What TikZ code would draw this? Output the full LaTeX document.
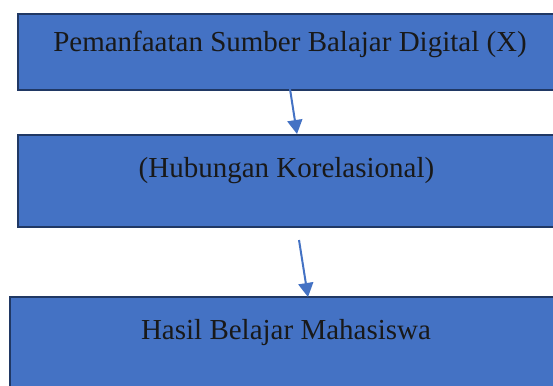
\documentclass[tikz,border=0pt]{standalone}
\usepackage{fontspec}
\setmainfont{Liberation Serif}
\usetikzlibrary{arrows.meta}
\definecolor{boxfill}{HTML}{4472C4}
\definecolor{boxline}{HTML}{203864}
\definecolor{arrowc}{HTML}{4472C4}
\begin{document}
\begin{tikzpicture}[x=1pt,y=-1pt,
  box/.style={draw=boxline,fill=boxfill,line width=2.5pt,rectangle,inner sep=0pt},
  lbl/.style={inner sep=0pt,anchor=base,font=\fontsize{29}{34}\selectfont,text=black!90},
  conn/.style={draw=arrowc,line width=2pt,-{Triangle[width=15pt,length=14pt]}}]
\useasboundingbox (0,0) rectangle (553,385);
\clip (0,0) rectangle (553,385);
\fill[white] (0,0) rectangle (553,385);
\node[box,minimum width=544pt,minimum height=76pt] (b1) at (290,52) {};
\node[box,minimum width=537pt,minimum height=92pt] (b2) at (286.5,181) {};
\node[box,minimum width=552pt,minimum height=100pt] (b3) at (286,347) {};
\node[lbl] (t1) at (290,52) {Pemanfaatan Sumber Balajar Digital (X)};
\node[lbl] (t2) at (286.5,177) {(Hubungan Korelasional)};
\node[lbl] (t3) at (286,339) {Hasil Belajar Mahasiswa};
\coordinate (a1s) at (290,89);
\coordinate (a1e) at (297,134);
\coordinate (a2s) at (299,240);
\coordinate (a2e) at (308,297);
\draw[conn] (a1s) -- (a1e);
\draw[conn] (a2s) -- (a2e);
\end{tikzpicture}
\end{document}
